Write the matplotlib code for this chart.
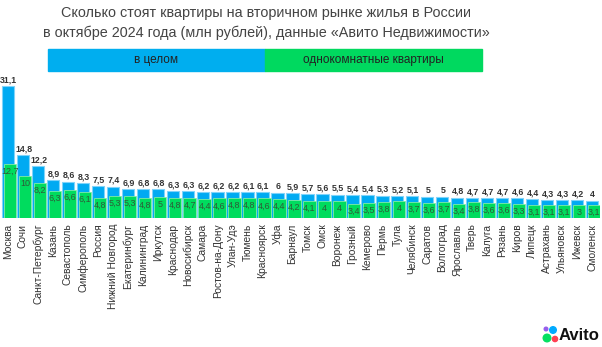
import matplotlib.pyplot as plt
import matplotlib.patches as mpatches
import numpy as np

plt.rcParams['font.family'] = ['Liberation Sans', 'DejaVu Sans']

# Города и цены (млн руб.)
cities = ["Москва", "Сочи", "Санкт-Петербург", "Казань", "Севастополь", "Симферополь",
          "Россия", "Нижний Новгород", "Екатеринбург", "Калининград", "Иркутск",
          "Краснодар", "Новосибирск", "Самара", "Ростов-на-Дону", "Улан-Удэ", "Тюмень",
          "Красноярск", "Уфа", "Барнаул", "Томск", "Омск", "Воронеж", "Грозный",
          "Кемерово", "Пермь", "Тула", "Челябинск", "Саратов", "Волгоград", "Ярославль",
          "Тверь", "Калуга", "Рязань", "Киров", "Липецк", "Астрахань", "Ульяновск",
          "Ижевск", "Смоленск"]
total = [31.1, 14.8, 12.2, 8.9, 8.6, 8.3, 7.5, 7.4, 6.9, 6.8, 6.8, 6.3, 6.3, 6.2, 6.2,
         6.2, 6.1, 6.1, 6, 5.9, 5.7, 5.6, 5.5, 5.4, 5.4, 5.3, 5.2, 5.1, 5, 5, 4.8, 4.7,
         4.7, 4.7, 4.6, 4.4, 4.3, 4.3, 4.2, 4]
one_room = [12.7, 10, 8.2, 6.3, 6.6, 6.1, 4.8, 5.3, 5.3, 4.8, 5, 4.8, 4.7, 4.4, 4.6,
            4.8, 4.8, 4.6, 4.4, 4.2, 4.1, 4, 4, 3.4, 3.5, 3.8, 4, 3.7, 3.6, 3.7, 3.4,
            3.8, 3.6, 3.6, 3.3, 3.1, 3.1, 3.1, 3, 3.1]

blue = "#00AAF2"
green = "#00DC5E"


def fmt(v):
    s = ("%.1f" % v).rstrip("0").rstrip(".")
    return s.replace(".", ",")


fig = plt.figure(figsize=(6.02, 3.47), dpi=100)
W, H = 602, 347
ax = fig.add_axes([0.5 / W, (H - 218) / H, 599 / W, 140 / H])

x = np.arange(len(cities))
ax.bar(x, total, width=0.82, color=blue, edgecolor="#7FD3FA", linewidth=0.8)
ax.bar(x + 0.13, one_room, width=0.82, color=green, edgecolor="#7FEBA8", linewidth=0.6)

for i in range(len(cities)):
    ax.text(x[i] + 0.05, total[i] + 0.4, fmt(total[i]), ha="center", va="bottom",
            fontsize=6.3, fontweight="bold", color="#333333")
    ax.text(x[i] + 0.13, one_room[i] - 0.7, fmt(one_room[i]), ha="center", va="top",
            fontsize=6.5, color="#2F5A38")

ax.set_xlim(-0.5, len(cities) - 0.5)
ax.set_ylim(0, 33)
ax.set_xticks(x)
ax.set_xticklabels(cities, rotation=90, fontsize=7.4, color="#333333")
ax.tick_params(axis="x", length=0, pad=4)
ax.set_yticks([])
for s in ax.spines.values():
    s.set_visible(False)

# Заголовок
fig.text(266 / W, 1 - 13 / H, "Сколько стоят квартиры на вторичном рынке жилья в России",
         ha="center", va="center", fontsize=10.4, color="#444444")
fig.text(266 / W, 1 - 33 / H, "в октябре 2024 года (млн рублей), данные «Авито Недвижимости»",
         ha="center", va="center", fontsize=10.4, color="#444444")

# Легенда в виде полос
fig.patches.append(mpatches.Rectangle((48 / W, 1 - 71 / H), 217 / W, 22 / H,
                                      transform=fig.transFigure, color="#00AEEF"))
fig.patches.append(mpatches.Rectangle((265 / W, 1 - 71 / H), 217 / W, 22 / H,
                                      transform=fig.transFigure, color="#00D95F"))
fig.text(156 / W, 1 - 60 / H, "в целом", ha="center", va="center", fontsize=8.5, color="#222222")
fig.text(373 / W, 1 - 60 / H, "однокомнатные квартиры", ha="center", va="center",
         fontsize=8.5, color="#222222")

# Логотип Avito
for cx, cy, r, c in [(546, 329, 1.8, "#965EEB"), (553, 330, 3.3, "#00AAFF"),
                     (547, 338, 3.8, "#04E061"), (555, 339, 2.6, "#FF4053")]:
    fig.patches.append(mpatches.Ellipse((cx / W, 1 - cy / H), 2 * r / W, 2 * r / H,
                                        transform=fig.transFigure, color=c))
fig.text(559 / W, 1 - 335 / H, "Avito", ha="left", va="center", fontsize=12,
         fontweight="bold", color="#111111")

fig.savefig("out.png", dpi=100)
